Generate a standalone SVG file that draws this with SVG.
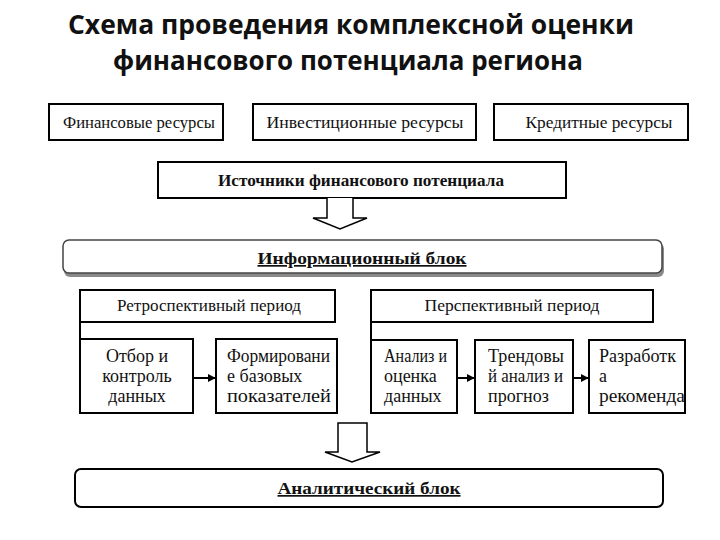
<svg xmlns="http://www.w3.org/2000/svg" width="720" height="540" viewBox="0 0 720 540">
  <style>
    .title { font-family: "Open Sans", "Noto Sans", "Liberation Sans", sans-serif; font-weight: bold; font-size: 26px; fill: #111; }
    .box { fill: #fff; stroke: #000; stroke-width: 2; }
    .t { font-family: "Liberation Serif", "DejaVu Serif", serif; font-size: 17px; fill: #111; }
    .m { font-size: 18px; }
    .c { text-anchor: middle; }
    .b { font-weight: bold; }
    .u { text-decoration: underline; }
    .conn { stroke: #000; stroke-width: 2; fill: none; }
    .block { fill: #fff; stroke: #000; stroke-width: 1.5; }
  </style>
  <defs>
    <marker id="ah" viewBox="0 0 10 10" refX="9" refY="5" markerWidth="4" markerHeight="4" orient="auto" markerUnits="strokeWidth">
      <path d="M0,0 L10,5 L0,10 Z" fill="#000"/>
    </marker>
  </defs>
  <rect width="720" height="540" fill="#fff"/>

  <g id="title">
    <text class="title c" x="351" y="34" textLength="566" lengthAdjust="spacingAndGlyphs">Схема проведения комплексной оценки</text>
    <text class="title c" x="348" y="70" textLength="470" lengthAdjust="spacingAndGlyphs">финансового потенциала региона</text>
  </g>

  <g id="fin-res">
    <rect class="box" x="49" y="104" width="174" height="36"/>
    <text class="t c" x="139" y="128" textLength="152" lengthAdjust="spacingAndGlyphs">Финансовые ресурсы</text>
  </g>
  <g id="inv-res">
    <rect class="box" x="253" y="104" width="223" height="36"/>
    <text class="t c" x="365" y="128" textLength="197" lengthAdjust="spacingAndGlyphs">Инвестиционные ресурсы</text>
  </g>
  <g id="cred-res">
    <rect class="box" x="494" y="104" width="194" height="36"/>
    <text class="t c" x="599" y="128" textLength="147" lengthAdjust="spacingAndGlyphs">Кредитные ресурсы</text>
  </g>

  <g id="sources">
    <rect class="box" x="158" y="162" width="408" height="36"/>
    <text class="t c b" x="361" y="186" textLength="286" lengthAdjust="spacingAndGlyphs">Источники финансового потенциала</text>
  </g>

  <g id="info-block">
    <rect x="64" y="243" width="600" height="34" rx="6" fill="#8a8a8a"/>
    <rect x="63" y="240" width="599" height="33" rx="6" fill="#fff" stroke="#444" stroke-width="1.5"/>
    <text class="t c b u" x="362" y="264" textLength="209" lengthAdjust="spacingAndGlyphs">Информационный блок</text>
  </g>

  <g id="retro">
    <rect class="box" x="80" y="290" width="255" height="32"/>
    <text class="t c" x="209" y="311" textLength="184" lengthAdjust="spacingAndGlyphs">Ретроспективный период</text>
  </g>
  <g id="persp">
    <rect class="box" x="371" y="290" width="282" height="32"/>
    <text class="t c" x="512" y="311" textLength="175" lengthAdjust="spacingAndGlyphs">Перспективный период</text>
  </g>

  <g id="otbor">
    <rect class="box" x="80" y="339" width="113" height="74"/>
    <text class="t m c" x="137" y="362">Отбор и</text>
    <text class="t m c" x="137" y="382">контроль</text>
    <text class="t m c" x="137" y="402">данных</text>
  </g>
  <g id="form">
    <rect class="box" x="216" y="339" width="121" height="74"/>
    <text class="t m" x="227" y="362" textLength="103" lengthAdjust="spacingAndGlyphs">Формировани</text>
    <text class="t m" x="227" y="382">е базовых</text>
    <text class="t m" x="227" y="402" textLength="104" lengthAdjust="spacingAndGlyphs">показателей</text>
  </g>
  <g id="analiz">
    <rect class="box" x="371" y="340" width="86" height="73"/>
    <text class="t m" x="384" y="362" textLength="63" lengthAdjust="spacingAndGlyphs">Анализ и</text>
    <text class="t m" x="384" y="382">оценка</text>
    <text class="t m" x="384" y="402">данных</text>
  </g>
  <g id="trend">
    <rect class="box" x="475" y="340" width="98" height="73"/>
    <text class="t m" x="488" y="362" textLength="76" lengthAdjust="spacingAndGlyphs">Трендовы</text>
    <text class="t m" x="488" y="382" textLength="75" lengthAdjust="spacingAndGlyphs">й анализ и</text>
    <text class="t m" x="488" y="402">прогноз</text>
  </g>
  <g id="razrab">
    <rect class="box" x="589" y="340" width="96" height="73"/>
    <text class="t m" x="599" y="362" textLength="77" lengthAdjust="spacingAndGlyphs">Разработк</text>
    <text class="t m" x="599" y="382">а</text>
    <text class="t m" x="599" y="402" textLength="86" lengthAdjust="spacingAndGlyphs">рекоменда</text>
  </g>

  <g id="analytic-block">
    <rect x="75" y="469" width="588" height="38" rx="6" fill="#fff" stroke="#000" stroke-width="2"/>
    <text class="t c b u" x="369" y="494" font-size="15" textLength="183" lengthAdjust="spacingAndGlyphs">Аналитический блок</text>
  </g>

  <g id="connectors">
    <path class="block" d="M327,198 L327,218 L313,218 L340,229 L367,218 L353,218 L353,198"/>
    <path class="conn" d="M80,322 L80,339"/>
    <path class="conn" d="M371,322 L371,340"/>
    <line class="conn" x1="193" y1="378" x2="215" y2="378" marker-end="url(#ah)"/>
    <line class="conn" x1="457" y1="378" x2="474" y2="378" marker-end="url(#ah)"/>
    <line class="conn" x1="573" y1="378" x2="588" y2="378" marker-end="url(#ah)"/>
    <path class="block" d="M338,423 L367,423 L367,452 L380,452 L352,462 L325,452 L338,452 Z"/>
  </g>
</svg>
